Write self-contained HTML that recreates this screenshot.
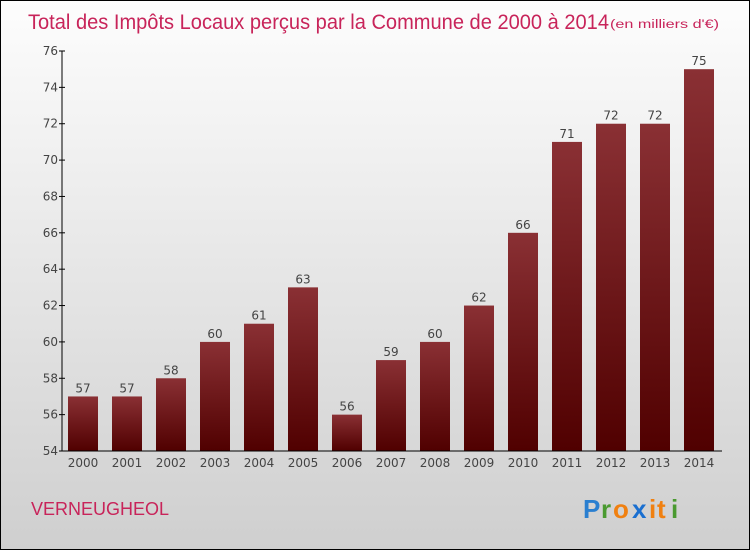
<!DOCTYPE html>
<html><head><meta charset="utf-8"><style>
body{margin:0}
#c{width:750px;height:550px;position:relative;box-sizing:border-box;border:1px solid #000;background:linear-gradient(#fdfdfd,#cfcfcf);font-family:"DejaVu Sans","Liberation Sans",sans-serif;overflow:hidden}
</style></head><body>
<div id="c">
<svg id="s" width="750" height="550" style="position:absolute;left:0;top:0">
<defs><linearGradient id="g" x1="0" y1="0" x2="0" y2="1"><stop offset="0" stop-color="#8a3034"/><stop offset="1" stop-color="#500000"/></linearGradient></defs>
<text x="27" y="28" font-size="21" fill="#c8245a" font-family="Liberation Sans" textLength="581" lengthAdjust="spacingAndGlyphs">Total des Impôts Locaux perçus par la Commune de 2000 à 2014</text>
<text x="609" y="27" font-size="11.5" fill="#c8245a" font-family="Liberation Sans" textLength="109" lengthAdjust="spacingAndGlyphs">(en milliers d'€)</text>
<text x="30" y="514" font-size="18" fill="#c8245a" font-family="Liberation Sans">VERNEUGHEOL</text>
<g font-size="26" font-family="Liberation Sans" font-weight="bold">
<text x="582" y="517" fill="#2a7fd0">P</text><text x="600" y="517" fill="#4a9a30">r</text><text x="612" y="517" fill="#f08010">o</text><text x="631" y="517" fill="#1a6fd0">x</text><text x="648" y="517" fill="#f08010">i</text><text x="656" y="517" fill="#f08010">t</text><text x="670" y="517" fill="#4a9a30">i</text>
</g>
<g id="plot"></g>
</svg>
</div>
<script>
const years=["2000","2001","2002","2003","2004","2005","2006","2007","2008","2009","2010","2011","2012","2013","2014"];
const values=[57,57,58,60,61,63,56,59,60,62,66,71,72,72,75];
const yTicks=[54,56,58,60,62,64,66,68,70,72,74,76];
const ns="http://www.w3.org/2000/svg";
const plotG=document.getElementById('plot');
const yMin=54,yMax=76,pTop=50,pBot=450,pLeft=61,pRight=721;
const sy=v=>pBot-(v-yMin)/(yMax-yMin)*(pBot-pTop);
const sx=i=>82+i*44;
function mk(t,a){const e=document.createElementNS(ns,t);for(const k in a)e.setAttribute(k,a[k]);plotG.appendChild(e);return e;}
values.forEach((v,i)=>{
const r=mk('rect',{x:sx(i)-15,y:sy(v),width:30,height:pBot-sy(v),fill:'url(#g)'});


const t=mk('text',{x:sx(i),y:sy(v)-4,'text-anchor':'middle','font-size':12,fill:'#444'});
t.textContent=v;


const xl=mk('text',{x:sx(i),y:pBot+16,'text-anchor':'middle','font-size':12,fill:'#444'});
xl.textContent=years[i];


});
yTicks.forEach(v=>{
mk('line',{x1:pLeft-3,x2:pLeft+3,y1:sy(v),y2:sy(v),stroke:'#000'});
const t=mk('text',{x:pLeft-4,y:sy(v)+4,'text-anchor':'end','font-size':12,fill:'#444'});
t.textContent=v;


});
const ya=mk('line',{x1:pLeft,x2:pLeft,y1:pTop,y2:pBot,stroke:'#000'});


const xa=mk('line',{x1:pLeft,x2:pRight,y1:pBot,y2:pBot,stroke:'#000'});


</script>
</body></html>
